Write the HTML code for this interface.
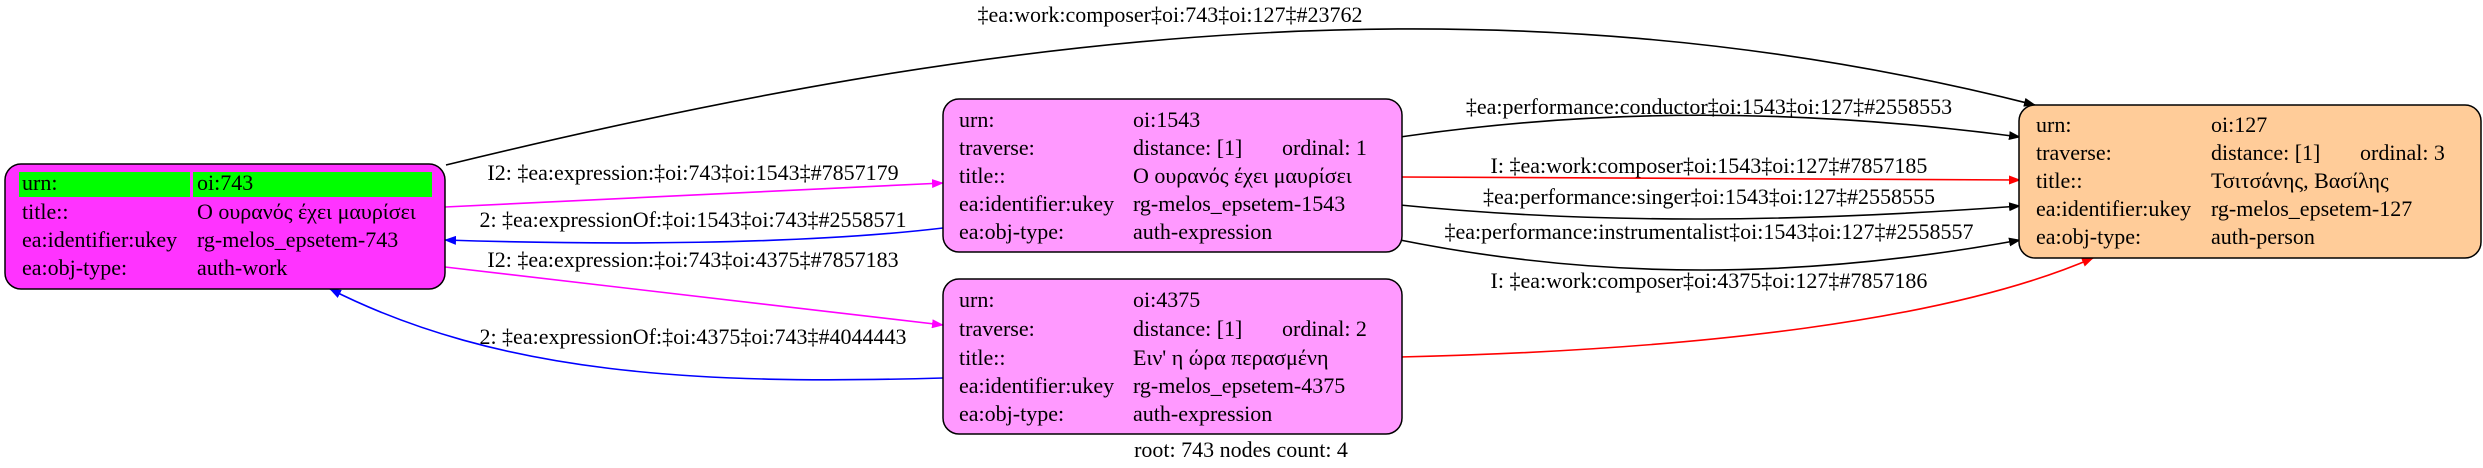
<!DOCTYPE html>
<html><head><meta charset="utf-8"><style>
html,body{margin:0;padding:0;background:#fff;width:2483px;height:468px;overflow:hidden}
svg text{font-family:"Liberation Serif","DejaVu Serif",serif;font-size:22px;fill:#000}
</style></head><body>
<svg width="2483" height="468" viewBox="0 0 2483 468" xmlns="http://www.w3.org/2000/svg">
<defs>
<marker id="ab" markerWidth="12" markerHeight="9" refX="11" refY="4.5" orient="auto" markerUnits="userSpaceOnUse" viewBox="0 0 12 9"><path d="M0,0L12,4.5L0,9z" fill="#000"/></marker>
<marker id="ar" markerWidth="12" markerHeight="9" refX="11" refY="4.5" orient="auto" markerUnits="userSpaceOnUse" viewBox="0 0 12 9"><path d="M0,0L12,4.5L0,9z" fill="#f00"/></marker>
<marker id="am" markerWidth="12" markerHeight="9" refX="11" refY="4.5" orient="auto" markerUnits="userSpaceOnUse" viewBox="0 0 12 9"><path d="M0,0L12,4.5L0,9z" fill="#f0f"/></marker>
<marker id="abl" markerWidth="12" markerHeight="9" refX="11" refY="4.5" orient="auto" markerUnits="userSpaceOnUse" viewBox="0 0 12 9"><path d="M0,0L12,4.5L0,9z" fill="#00f"/></marker>
</defs>
<g stroke-width="1.6" fill="none">
<path d="M446,165 C1000,30 1500,-30 2035,105" stroke="#000" marker-end="url(#ab)"/>
<path d="M1400,137 C1600,108 1800,108 2020,137" stroke="#000" marker-end="url(#ab)"/>
<path d="M1400,177 L2020,180" stroke="#f00" marker-end="url(#ar)"/>
<path d="M1400,205 C1600,225 1800,222 2020,206" stroke="#000" marker-end="url(#ab)"/>
<path d="M1400,240 C1600,280 1800,280 2020,240" stroke="#000" marker-end="url(#ab)"/>
<path d="M1400,357 C1700,350 1950,320 2093,258" stroke="#f00" marker-end="url(#ar)"/>
<path d="M445,207 L943,183" stroke="#f0f" marker-end="url(#am)"/>
<path d="M943,228 C800,245 600,245 445,240" stroke="#00f" marker-end="url(#abl)"/>
<path d="M445,267 L943,325" stroke="#f0f" marker-end="url(#am)"/>
<path d="M943,378 C700,385 500,375 330,289" stroke="#00f" marker-end="url(#abl)"/>
</g>
<g text-anchor="middle">
<text x="1170" y="22">‡ea:work:composer‡oi:743‡oi:127‡#23762</text>
<text x="1709" y="114">‡ea:performance:conductor‡oi:1543‡oi:127‡#2558553</text>
<text x="1709" y="173">I: ‡ea:work:composer‡oi:1543‡oi:127‡#7857185</text>
<text x="1709" y="204">‡ea:performance:singer‡oi:1543‡oi:127‡#2558555</text>
<text x="1709" y="239">‡ea:performance:instrumentalist‡oi:1543‡oi:127‡#2558557</text>
<text x="1709" y="288">I: ‡ea:work:composer‡oi:4375‡oi:127‡#7857186</text>
<text x="693" y="180">I2: ‡ea:expression:‡oi:743‡oi:1543‡#7857179</text>
<text x="693" y="227">2: ‡ea:expressionOf:‡oi:1543‡oi:743‡#2558571</text>
<text x="693" y="267">I2: ‡ea:expression:‡oi:743‡oi:4375‡#7857183</text>
<text x="693" y="344">2: ‡ea:expressionOf:‡oi:4375‡oi:743‡#4044443</text>
<text x="1241" y="457">root: 743 nodes count: 4</text>
</g>
<rect x="5" y="164" width="440" height="125" rx="16" fill="#ff33ff" stroke="#000" stroke-width="1.5"/>
<rect x="19" y="172" width="171" height="25" fill="#00ff00"/>
<rect x="193" y="172" width="239" height="25" fill="#00ff00"/>
<text x="22" y="190">urn:</text><text x="197" y="190">oi:743</text>
<text x="22" y="219">title::</text><text x="197" y="219">Ο ουρανός έχει μαυρίσει</text>
<text x="22" y="247">ea:identifier:ukey</text><text x="197" y="247">rg-melos_epsetem-743</text>
<text x="22" y="275">ea:obj-type:</text><text x="197" y="275">auth-work</text>
<rect x="943" y="99" width="459" height="153" rx="16" fill="#ff99ff" stroke="#000" stroke-width="1.5"/>
<text x="959" y="127">urn:</text><text x="1133" y="127">oi:1543</text>
<text x="959" y="155">traverse:</text><text x="1133" y="155">distance: [1]</text><text x="1282" y="155">ordinal: 1</text>
<text x="959" y="183">title::</text><text x="1133" y="183">Ο ουρανός έχει μαυρίσει</text>
<text x="959" y="211">ea:identifier:ukey</text><text x="1133" y="211">rg-melos_epsetem-1543</text>
<text x="959" y="239">ea:obj-type:</text><text x="1133" y="239">auth-expression</text>
<rect x="943" y="279" width="459" height="155" rx="16" fill="#ff99ff" stroke="#000" stroke-width="1.5"/>
<text x="959" y="307">urn:</text><text x="1133" y="307">oi:4375</text>
<text x="959" y="336">traverse:</text><text x="1133" y="336">distance: [1]</text><text x="1282" y="336">ordinal: 2</text>
<text x="959" y="365">title::</text><text x="1133" y="365">Ειν' η ώρα περασμένη</text>
<text x="959" y="393">ea:identifier:ukey</text><text x="1133" y="393">rg-melos_epsetem-4375</text>
<text x="959" y="421">ea:obj-type:</text><text x="1133" y="421">auth-expression</text>
<rect x="2019" y="105" width="462" height="153" rx="16" fill="#ffcc99" stroke="#000" stroke-width="1.5"/>
<text x="2036" y="132">urn:</text><text x="2211" y="132">oi:127</text>
<text x="2036" y="160">traverse:</text><text x="2211" y="160">distance: [1]</text><text x="2360" y="160">ordinal: 3</text>
<text x="2036" y="188">title::</text><text x="2211" y="188">Τσιτσάνης, Βασίλης</text>
<text x="2036" y="216">ea:identifier:ukey</text><text x="2211" y="216">rg-melos_epsetem-127</text>
<text x="2036" y="244">ea:obj-type:</text><text x="2211" y="244">auth-person</text>
</svg>
</body></html>
